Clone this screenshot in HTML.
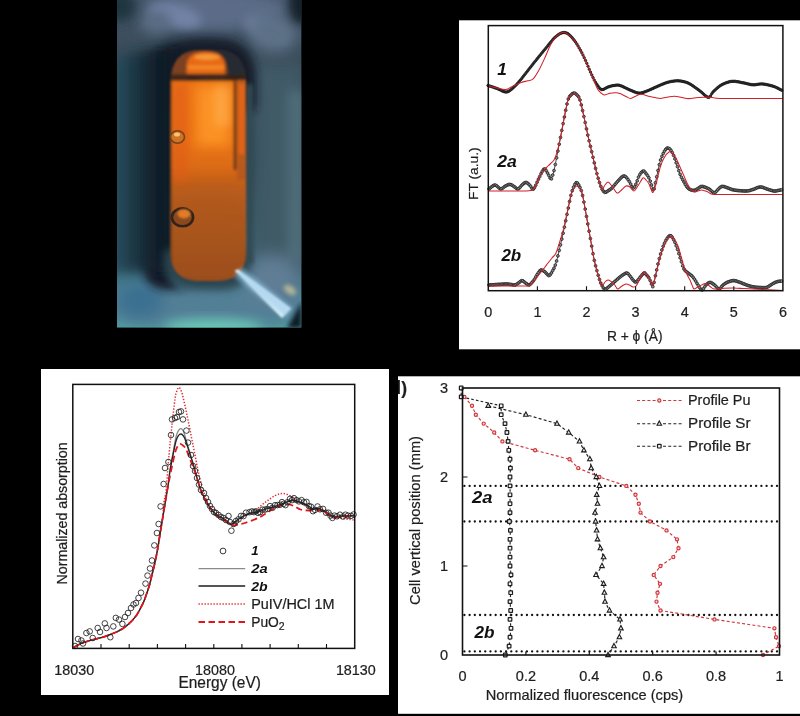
<!DOCTYPE html>
<html lang="en"><head><meta charset="utf-8"><title>Figure</title>
<style>
html,body{margin:0;padding:0;background:#000;}
body{width:800px;height:716px;overflow:hidden;position:relative;}
svg{position:absolute;left:0;top:0;display:block;}
text{font-family:"Liberation Sans",sans-serif;fill:#1e1e1e;opacity:.995;stroke:#1e1e1e;stroke-width:.22px;}
.bi{font-weight:bold;font-style:italic;fill:#111;stroke:none;}
</style></head><body>
<svg width="800" height="716" viewBox="0 0 800 716">
<defs>
<clipPath id="pc"><rect x="117" y="0" width="184.3" height="327.5"/></clipPath>
<clipPath id="oc"><path d="M170.5 281V84Q170.5 50 200 50H216Q246 50 246 84V252Q246 281 216 281H200Q170.5 281 170.5 252Z"/></clipPath>
<filter id="b2" x="-30%" y="-30%" width="160%" height="160%"><feGaussianBlur stdDeviation="2"/></filter>
<filter id="b1" x="-30%" y="-30%" width="160%" height="160%"><feGaussianBlur stdDeviation="1"/></filter>
<filter id="b05" x="-30%" y="-30%" width="160%" height="160%"><feGaussianBlur stdDeviation="0.6"/></filter>
<filter id="b4" x="-50%" y="-50%" width="200%" height="200%"><feGaussianBlur stdDeviation="4"/></filter>
<filter id="b6" x="-50%" y="-50%" width="200%" height="200%"><feGaussianBlur stdDeviation="6"/></filter>
<filter id="b8" x="-50%" y="-50%" width="200%" height="200%"><feGaussianBlur stdDeviation="8"/></filter>
<filter id="b14" x="-60%" y="-60%" width="220%" height="220%"><feGaussianBlur stdDeviation="14"/></filter>
<linearGradient id="pbg" x1="0" y1="0" x2="0" y2="1">
<stop offset="0" stop-color="#46566a"/><stop offset="0.15" stop-color="#3a4c5a"/><stop offset="0.5" stop-color="#2e4653"/><stop offset="0.8" stop-color="#3a6677"/><stop offset="0.9" stop-color="#4a8492"/><stop offset="1" stop-color="#52a0a2"/>
</linearGradient>
<linearGradient id="og" x1="0" y1="0" x2="0" y2="1">
<stop offset="0" stop-color="#7c4420"/><stop offset="0.13" stop-color="#8a4a1e"/><stop offset="0.14" stop-color="#ec7416"/><stop offset="0.4" stop-color="#ea7214"/><stop offset="0.5" stop-color="#dc6c16"/><stop offset="0.58" stop-color="#c05e1a"/><stop offset="0.78" stop-color="#ae541a"/><stop offset="1" stop-color="#9c4a18"/>
</linearGradient>
<linearGradient id="lg" x1="0" y1="0" x2="1" y2="0">
<stop offset="0" stop-color="#2b5363"/><stop offset="0.3" stop-color="#1f3c4a"/><stop offset="0.62" stop-color="#13222e"/><stop offset="1" stop-color="#0d1721"/>
</linearGradient>
<marker id="mk" markerWidth="5" markerHeight="5" refX="2.5" refY="2.5" markerUnits="userSpaceOnUse"><circle cx="2.5" cy="2.5" r="1.4" fill="#8a8a8a" stroke="#1e1e1e" stroke-width="0.8"/></marker>
<marker id="mk1" markerWidth="5" markerHeight="5" refX="2.5" refY="2.5" markerUnits="userSpaceOnUse"><circle cx="2.5" cy="2.5" r="1.2" fill="#3a3a3a" stroke="#151515" stroke-width="0.8"/></marker>
</defs>
<rect x="0" y="0" width="800" height="716" fill="#000"/>
<g id="photo" clip-path="url(#pc)">
<rect x="117" y="0" width="185" height="328" fill="url(#pbg)"/>
<!-- light arch at top -->
<ellipse cx="214" cy="10" rx="70" ry="20" fill="#5c6c88" filter="url(#b6)"/>
<ellipse cx="176" cy="16" rx="26" ry="11" fill="#7282a6" transform="rotate(14 176 16)" filter="url(#b4)"/>
<ellipse cx="266" cy="30" rx="24" ry="11" fill="#6b7c9a" transform="rotate(24 266 30)" filter="url(#b4)"/>
<ellipse cx="274" cy="34" rx="24" ry="20" fill="#5c6f86" filter="url(#b8)"/>
<ellipse cx="156" cy="22" rx="16" ry="12" fill="#5a6c84" filter="url(#b6)"/>
<!-- right lighter wall -->
<rect x="254" y="64" width="50" height="215" fill="#405a66" filter="url(#b8)"/>
<rect x="288" y="90" width="16" height="170" fill="#4f6d7a" filter="url(#b6)"/>
<!-- left wall -->

<!-- dark corners -->
<ellipse cx="302" cy="4" rx="13" ry="20" fill="#16242c" filter="url(#b4)"/>
<ellipse cx="120" cy="6" rx="16" ry="16" fill="#1e343e" filter="url(#b6)"/>
<!-- bottom glow -->
<ellipse cx="205" cy="306" rx="105" ry="24" fill="#527f96" filter="url(#b8)"/>
<ellipse cx="213" cy="327" rx="50" ry="8" fill="#6ccab8" filter="url(#b6)"/>
<ellipse cx="272" cy="280" rx="30" ry="26" fill="#5f7d94" filter="url(#b8)"/>
<ellipse cx="140" cy="300" rx="24" ry="18" fill="#3a7090" filter="url(#b8)"/>
<!-- dark slot frame: mostly left and top -->
<path d="M144 268V92Q144 38 203 38H214Q256 38 256 80V110H170V268Q170 292 200 290H170Q144 290 144 268Z" fill="#141f29" filter="url(#b4)"/>
<path d="M111 272V60Q140 50 174 46V272Z" fill="url(#lg)" filter="url(#b6)"/>
<path d="M164 268Q170 290 205 290H225Q248 288 250 266V250H164Z" fill="#2a4450" filter="url(#b4)"/>
<rect x="246" y="84" width="7" height="180" fill="#334852" filter="url(#b2)"/>
<!-- orange cell -->
<g filter="url(#b1)">
<g clip-path="url(#oc)">
<rect x="168" y="48" width="80" height="236" fill="url(#og)"/>
<!-- dome -->
<rect x="168" y="48" width="80" height="32" fill="#262a30"/>
<path d="M171 76V70Q173 50 200 50H206Q228 51 228 76Z" fill="#7c4120" filter="url(#b1)"/>
<path d="M186.5 74.5V66Q187 52 205 52Q225 52 225 66V74.5Z" fill="#e66a18" filter="url(#b1)"/>
<ellipse cx="207" cy="57" rx="13" ry="3" fill="#f89a38" filter="url(#b1)"/>
<rect x="188" y="65.5" width="36" height="3.6" fill="#f48a2a" filter="url(#b1)"/>
<rect x="168" y="74.8" width="80" height="5.8" fill="#34211a" filter="url(#b1)"/>
<!-- left redder -->
<rect x="170" y="82" width="18" height="100" fill="#e05c14" opacity="0.55" filter="url(#b4)"/>
<!-- bright centre/upper right -->
<rect x="196" y="86" width="34" height="60" fill="#ff9a2c" opacity="0.8" filter="url(#b6)"/>
<rect x="214" y="86" width="16" height="40" fill="#ffb050" opacity="0.6" filter="url(#b4)"/>
<!-- grain / darker lower -->
<rect x="168" y="190" width="80" height="95" fill="#9a5a2a" opacity="0.25" filter="url(#b8)"/>
<!-- right darker strip -->
<rect x="233.8" y="80" width="3" height="90" fill="#5e3016" filter="url(#b1)"/>
<rect x="237" y="80" width="12" height="100" fill="#b4581a" opacity="0.9" filter="url(#b1)"/>
<rect x="238.5" y="84" width="6" height="70" fill="#e4661a" opacity="0.95" filter="url(#b1)"/>
<!-- left dark edge -->
<rect x="168" y="80" width="3.5" height="205" fill="#6a3a18" filter="url(#b1)"/>
</g>
</g>
<!-- bubbles -->
<ellipse cx="177.5" cy="137" rx="7" ry="6.2" fill="#cc7426" stroke="#7a4216" stroke-width="1.6" filter="url(#b05)"/>
<ellipse cx="177" cy="134.5" rx="3" ry="2" fill="#ffc070" filter="url(#b05)"/>
<ellipse cx="182.5" cy="217.3" rx="10.6" ry="9" fill="#8a4a1c" stroke="#33231a" stroke-width="2.6" filter="url(#b05)"/>
<ellipse cx="184" cy="213.8" rx="6.5" ry="4.6" fill="#e07c28" filter="url(#b1)"/>
<!-- bright streak -->
<path d="M234.5 270.5L238.5 269.5L291 308.5L282 318Z" fill="#eefaff" filter="url(#b1)"/>
<path d="M238 272L289 313" stroke="#8fc4e6" stroke-width="12" opacity="0.6" filter="url(#b2)" fill="none"/>
<ellipse cx="290" cy="290" rx="7" ry="4" fill="#c8c49a" opacity="0.8" transform="rotate(35 290 290)" filter="url(#b2)"/>
<path d="M301.5 302L301.5 328L287 328Z" fill="#0f1c26" filter="url(#b2)"/>
</g>
<g id="tr">
<rect x="459" y="20.3" width="341" height="329" fill="#fff"/>
<polyline points="488.0,85.5 489.2,85.9 490.5,86.3 491.8,86.7 493.0,87.1 494.2,87.6 495.5,88.0 496.8,88.4 498.0,88.9 499.2,89.5 500.5,90.1 501.8,90.7 503.0,91.3 504.2,91.7 505.5,92.0 506.8,92.0 508.0,91.6 509.2,91.0 510.5,90.1 511.8,89.1 513.0,87.9 514.2,86.8 515.5,85.6 516.8,84.3 518.0,82.9 519.2,81.4 520.5,79.9 521.8,78.4 523.0,76.8 524.2,75.2 525.5,73.6 526.8,72.0 528.0,70.4 529.2,68.8 530.5,67.2 531.8,65.6 533.0,64.0 534.2,62.4 535.5,60.9 536.8,59.3 538.0,57.8 539.2,56.2 540.5,54.7 541.8,53.1 543.0,51.6 544.2,50.1 545.5,48.6 546.8,47.1 548.0,45.5 549.2,43.9 550.5,42.4 551.8,40.9 553.0,39.4 554.2,38.1 555.5,36.9 556.8,35.9 558.0,34.9 559.2,34.1 560.5,33.4 561.8,32.9 563.0,32.6 564.2,32.5 565.5,32.7 566.8,33.1 568.0,33.8 569.2,34.8 570.5,36.0 571.8,37.3 573.0,38.8 574.2,40.3 575.5,42.0 576.8,43.9 578.0,45.9 579.2,48.1 580.5,50.3 581.8,52.7 583.0,55.1 584.2,57.7 585.5,60.4 586.8,63.3 588.0,66.2 589.2,69.2 590.5,72.1 591.8,74.9 593.0,77.5 594.2,80.0 595.5,82.2 596.8,84.2 598.0,86.0 599.2,87.7 600.5,89.0 601.8,89.6 603.0,89.5 604.2,89.0 605.5,88.3 606.8,87.6 608.0,87.0 609.2,86.6 610.5,86.2 611.8,85.9 613.0,85.6 614.2,85.5 615.5,85.3 616.8,85.1 618.0,85.1 619.2,85.3 620.5,85.7 621.8,86.1 623.0,86.7 624.2,87.3 625.5,87.9 626.8,88.5 628.0,89.1 629.2,89.7 630.5,90.2 631.8,90.7 633.0,91.3 634.2,91.8 635.5,92.3 636.8,92.7 638.0,93.0 639.2,93.1 640.5,93.1 641.8,92.8 643.0,92.5 644.2,92.0 645.5,91.6 646.8,91.1 648.0,90.6 649.2,90.1 650.5,89.5 651.8,89.0 653.0,88.4 654.2,87.8 655.5,87.2 656.8,86.7 658.0,86.1 659.2,85.6 660.5,85.0 661.8,84.5 663.0,84.0 664.2,83.5 665.5,83.0 666.8,82.6 668.0,82.2 669.2,81.9 670.5,81.6 671.8,81.4 673.0,81.2 674.2,81.0 675.5,80.9 676.8,80.8 678.0,80.8 679.2,80.9 680.5,81.0 681.8,81.2 683.0,81.5 684.2,81.8 685.5,82.1 686.8,82.5 688.0,83.0 689.2,83.6 690.5,84.3 691.8,85.1 693.0,85.9 694.2,86.8 695.5,87.7 696.8,88.6 698.0,89.5 699.2,90.4 700.5,91.4 701.8,92.4 703.0,93.6 704.2,94.7 705.5,95.8 706.8,96.7 708.0,97.3 709.2,97.2 710.5,96.0 711.8,93.7 713.0,92.0 714.2,90.8 715.5,89.6 716.8,88.4 718.0,87.4 719.2,86.4 720.5,85.5 721.8,84.8 723.0,84.1 724.2,83.6 725.5,83.0 726.8,82.6 728.0,82.2 729.2,81.8 730.5,81.5 731.8,81.4 733.0,81.3 734.2,81.3 735.5,81.4 736.8,81.6 738.0,81.8 739.2,82.0 740.5,82.3 741.8,82.6 743.0,82.8 744.2,83.0 745.5,83.3 746.8,83.6 748.0,83.9 749.2,84.2 750.5,84.5 751.8,84.7 753.0,84.8 754.2,84.8 755.5,84.7 756.8,84.5 758.0,84.3 759.2,84.1 760.5,84.0 761.8,83.9 763.0,84.0 764.2,84.2 765.5,84.4 766.8,84.6 768.0,84.9 769.2,85.2 770.5,85.5 771.8,85.8 773.0,86.2 774.2,86.6 775.5,87.1 776.8,87.7 778.0,88.3 779.2,89.0 780.5,89.6 781.8,90.3" fill="none" stroke="#1a1a1a" stroke-width="1.0" marker-start="url(#mk1)" marker-mid="url(#mk1)" marker-end="url(#mk1)"/>
<polyline points="489.0,189.0 490.3,187.9 491.6,186.8 492.9,185.9 494.2,185.1 495.5,185.1 496.8,186.0 498.1,187.1 499.4,188.3 500.7,189.0 502.0,188.6 503.3,187.6 504.6,186.6 505.9,185.8 507.2,185.1 508.5,184.6 509.8,184.4 511.1,184.7 512.4,185.4 513.7,186.3 515.0,187.2 516.3,188.4 517.6,189.0 518.9,188.5 520.2,187.1 521.5,185.5 522.8,184.3 524.1,183.2 525.4,182.5 526.7,182.6 528.0,183.5 529.3,184.8 530.6,186.2 531.9,188.4 533.2,189.2 534.5,187.8 535.8,185.2 537.1,182.2 538.4,179.2 539.7,176.6 541.0,173.8 542.3,171.3 543.6,169.3 544.9,169.0 546.2,170.7 547.5,173.0 548.8,175.4 550.1,178.0 551.4,178.9 552.7,175.1 554.0,170.6 555.3,164.5 556.6,157.9 557.9,151.1 559.2,144.2 560.5,137.4 561.8,130.5 563.1,123.6 564.4,117.0 565.7,110.3 567.0,104.0 568.3,99.0 569.6,96.4 570.9,95.1 572.2,93.8 573.5,93.1 574.8,93.2 576.1,94.1 577.4,95.4 578.7,96.9 580.0,100.0 581.3,104.9 582.6,110.6 583.9,116.5 585.2,122.6 586.5,128.9 587.8,135.1 589.1,140.8 590.4,146.3 591.7,151.7 593.0,157.3 594.3,162.9 595.6,168.4 596.9,173.6 598.2,178.3 599.5,182.6 600.8,186.3 602.1,189.2 603.4,191.2 604.7,192.3 606.0,192.2 607.3,191.4 608.6,190.4 609.9,189.7 611.2,188.7 612.5,187.5 613.8,185.9 615.1,184.3 616.4,182.8 617.7,181.3 619.0,179.9 620.3,178.5 621.6,177.2 622.9,176.3 624.2,176.0 625.5,176.6 626.8,178.0 628.1,179.7 629.4,181.6 630.7,184.1 632.0,186.8 633.3,188.1 634.6,186.9 635.9,184.2 637.2,180.8 638.5,177.1 639.8,174.6 641.1,172.7 642.4,171.4 643.7,171.0 645.0,172.2 646.3,173.9 647.6,175.6 648.9,177.8 650.2,181.1 651.5,185.0 652.8,189.3 654.1,188.9 655.4,182.8 656.7,176.8 658.0,170.5 659.3,164.7 660.6,160.0 661.9,156.4 663.2,153.5 664.5,151.1 665.8,149.2 667.1,148.1 668.4,148.1 669.7,148.9 671.0,150.4 672.3,152.6 673.6,155.4 674.9,158.9 676.2,162.8 677.5,166.7 678.8,170.7 680.1,174.3 681.4,177.3 682.7,179.7 684.0,182.0 685.3,184.4 686.6,186.5 687.9,188.0 689.2,189.1 690.5,189.7 691.8,190.2 693.1,190.4 694.4,190.3 695.7,189.8 697.0,189.1 698.3,188.3 699.6,187.3 700.9,186.6 702.2,186.4 703.5,186.7 704.8,187.1 706.1,187.6 707.4,188.2 708.7,188.8 710.0,189.6 711.3,190.9 712.6,192.0 713.9,193.0 715.2,192.5 716.5,191.1 717.8,189.7 719.1,188.4 720.4,187.2 721.7,186.5 723.0,186.4 724.3,186.7 725.6,187.1 726.9,187.6 728.2,188.1 729.5,188.6 730.8,189.1 732.1,189.6 733.4,189.9 734.7,190.1 736.0,190.3 737.3,190.5 738.6,190.6 739.9,190.7 741.2,190.8 742.5,190.9 743.8,191.0 745.1,191.0 746.4,191.0 747.7,190.9 749.0,190.7 750.3,190.3 751.6,189.9 752.9,189.5 754.2,189.1 755.5,188.5 756.8,187.9 758.1,187.4 759.4,187.1 760.7,187.0 762.0,187.2 763.3,187.6 764.6,188.1 765.9,188.6 767.2,189.1 768.5,189.5 769.8,189.9 771.1,190.3 772.4,190.7 773.7,191.0 775.0,191.1 776.3,190.9 777.6,190.6 778.9,190.3 780.2,190.1 781.5,189.8" fill="none" stroke="#1a1a1a" stroke-width="0.8" marker-start="url(#mk)" marker-mid="url(#mk)" marker-end="url(#mk)"/>
<polyline points="489.0,285.0 490.3,284.9 491.6,284.8 492.9,284.8 494.2,284.7 495.5,284.6 496.8,284.5 498.1,284.4 499.4,284.3 500.7,284.3 502.0,284.2 503.3,284.1 504.6,284.0 505.9,284.0 507.2,284.0 508.5,284.1 509.8,284.3 511.1,284.5 512.4,284.8 513.7,285.0 515.0,285.0 516.3,284.5 517.6,283.6 518.9,282.7 520.2,281.6 521.5,280.7 522.8,280.8 524.1,281.8 525.4,282.9 526.7,283.8 528.0,284.7 529.3,285.0 530.6,284.0 531.9,282.6 533.2,281.1 534.5,279.2 535.8,276.9 537.1,274.6 538.4,272.7 539.7,270.9 541.0,270.0 542.3,270.2 543.6,271.0 544.9,271.9 546.2,273.2 547.5,274.7 548.8,275.6 550.1,274.9 551.4,273.0 552.7,270.6 554.0,268.2 555.3,265.1 556.6,261.0 557.9,255.9 559.2,250.4 560.5,244.9 561.8,239.1 563.1,233.2 564.4,227.1 565.7,220.8 567.0,214.4 568.3,208.0 569.6,201.4 570.9,195.4 572.2,190.7 573.5,187.2 574.8,184.4 576.1,182.7 577.4,183.0 578.7,184.9 580.0,187.4 581.3,190.6 582.6,195.5 583.9,202.1 585.2,209.1 586.5,216.4 587.8,223.9 589.1,231.2 590.4,238.6 591.7,246.1 593.0,253.7 594.3,260.4 595.6,265.8 596.9,270.6 598.2,275.3 599.5,279.5 600.8,283.1 602.1,285.8 603.4,288.0 604.7,289.3 606.0,289.1 607.3,288.0 608.6,286.9 609.9,285.8 611.2,284.7 612.5,283.6 613.8,282.4 615.1,281.3 616.4,280.1 617.7,279.0 619.0,277.8 620.3,276.8 621.6,275.8 622.9,274.9 624.2,274.1 625.5,273.3 626.8,273.0 628.1,273.7 629.4,275.3 630.7,276.9 632.0,278.8 633.3,280.3 634.6,281.7 635.9,282.0 637.2,281.0 638.5,279.4 639.8,277.7 641.1,276.1 642.4,274.5 643.7,273.2 645.0,273.2 646.3,274.8 647.6,276.1 648.9,277.8 650.2,280.6 651.5,284.0 652.8,286.7 654.1,282.4 655.4,275.8 656.7,269.9 658.0,264.0 659.3,258.6 660.6,254.0 661.9,249.9 663.2,246.2 664.5,243.1 665.8,240.5 667.1,238.4 668.4,236.7 669.7,235.7 671.0,235.8 672.3,237.3 673.6,239.7 674.9,242.4 676.2,245.8 677.5,249.4 678.8,253.6 680.1,257.8 681.4,261.8 682.7,265.9 684.0,269.0 685.3,270.8 686.6,271.9 687.9,272.9 689.2,273.9 690.5,274.8 691.8,275.8 693.1,277.3 694.4,279.1 695.7,281.1 697.0,283.4 698.3,285.5 699.6,287.6 700.9,289.4 702.2,290.0 703.5,288.7 704.8,286.6 706.1,284.9 707.4,283.7 708.7,282.8 710.0,282.4 711.3,282.7 712.6,283.6 713.9,284.5 715.2,285.6 716.5,287.0 717.8,288.4 719.1,289.0 720.4,288.2 721.7,286.4 723.0,285.1 724.3,284.1 725.6,283.2 726.9,282.5 728.2,281.9 729.5,281.5 730.8,281.1 732.1,280.7 733.4,280.6 734.7,280.7 736.0,281.0 737.3,281.4 738.6,281.9 739.9,282.3 741.2,282.8 742.5,283.4 743.8,283.9 745.1,284.4 746.4,284.9 747.7,285.4 749.0,285.8 750.3,286.2 751.6,286.5 752.9,286.8 754.2,287.0 755.5,287.2 756.8,287.3 758.1,287.4 759.4,287.5 760.7,287.5 762.0,287.6 763.3,287.7 764.6,287.7 765.9,287.6 767.2,287.2 768.5,286.5 769.8,285.6 771.1,284.8 772.4,283.9 773.7,283.2 775.0,282.5 776.3,282.0 777.6,281.6 778.9,281.3 780.2,281.2 781.5,281.1" fill="none" stroke="#1a1a1a" stroke-width="0.8" marker-start="url(#mk)" marker-mid="url(#mk)" marker-end="url(#mk)"/>
<path d="M488.0 85.5C489.5 85.9 494.0 87.3 497.0 88.0C500.0 88.7 503.1 89.9 505.8 89.6C508.5 89.3 510.4 87.2 513.0 86.0C515.6 84.8 518.8 83.3 521.3 82.4C523.8 81.5 526.0 81.4 528.0 80.8C530.0 80.2 531.3 80.7 533.1 78.9C534.9 77.1 537.0 73.6 539.0 70.0C541.0 66.4 543.2 61.5 545.0 57.5C546.8 53.5 548.4 49.2 550.0 46.0C551.6 42.8 552.8 40.6 554.5 38.5C556.2 36.4 558.2 34.5 560.0 33.5C561.8 32.5 562.9 31.5 565.2 32.6C567.5 33.7 571.0 36.2 574.0 40.0C577.0 43.8 579.9 48.9 583.0 55.1C586.1 61.3 590.1 71.5 592.5 77.0C594.9 82.5 595.9 85.7 597.3 88.4C598.7 91.1 599.8 91.9 601.0 93.0C602.2 94.1 602.9 95.0 604.4 95.0C605.9 95.0 608.0 93.6 610.0 93.2C612.0 92.8 614.6 92.6 616.3 92.7C618.0 92.8 618.4 93.0 620.0 93.6C621.6 94.2 624.2 95.7 626.0 96.5C627.8 97.3 629.0 98.5 630.7 98.4C632.4 98.3 634.2 96.7 636.0 96.0C637.8 95.3 639.1 94.2 641.4 94.3C643.7 94.4 646.8 95.8 650.0 96.5C653.2 97.2 657.4 98.3 660.4 98.4C663.4 98.5 665.6 97.4 668.0 97.0C670.4 96.6 672.3 96.1 674.6 96.2C676.9 96.3 679.6 97.1 682.0 97.5C684.4 97.9 686.2 98.6 688.9 98.6C691.6 98.6 694.8 97.8 698.0 97.5C701.2 97.2 705.7 96.9 708.4 96.9C711.1 97.0 712.1 97.5 714.0 97.8C715.9 98.0 713.8 98.3 719.8 98.4C725.8 98.5 739.5 98.4 750.0 98.4C760.5 98.4 777.2 98.4 782.7 98.4" fill="none" stroke="#d21f28" stroke-width="1.05" stroke-linejoin="round"/>
<path d="M489.0 191.0C491.7 191.0 499.8 191.0 505.0 191.0C510.2 191.0 516.5 191.0 520.0 191.0C523.5 191.0 524.2 191.1 526.0 191.0C527.8 190.9 529.7 190.8 531.0 190.5C532.3 190.2 533.0 190.2 534.0 189.0C535.0 187.8 536.0 185.2 537.0 183.0C538.0 180.8 538.8 178.1 540.0 176.0C541.2 173.9 542.7 172.2 544.0 170.5C545.3 168.8 546.3 167.8 548.0 166.0C549.7 164.2 552.5 162.3 554.0 160.0C555.5 157.7 556.0 155.3 557.0 152.0C558.0 148.7 558.8 145.5 560.0 140.0C561.2 134.5 562.7 125.7 564.0 119.0C565.3 112.3 566.8 103.9 568.0 100.0C569.2 96.1 570.0 96.5 571.0 95.5C572.0 94.5 573.0 94.0 574.0 94.0C575.0 94.0 576.0 94.5 577.0 95.5C578.0 96.5 578.8 96.4 580.0 100.0C581.2 103.6 582.7 111.0 584.0 117.0C585.3 123.0 586.7 130.0 588.0 136.0C589.3 142.0 590.7 147.3 592.0 153.0C593.3 158.7 594.8 165.3 596.0 170.0C597.2 174.7 598.0 177.8 599.0 181.0C600.0 184.2 601.0 188.3 602.0 189.0C603.0 189.7 604.0 186.2 605.0 185.0C606.0 183.8 607.0 182.0 608.0 182.0C609.0 182.0 610.0 183.8 611.0 185.0C612.0 186.2 613.2 187.8 614.0 189.0C614.8 190.2 615.3 191.3 616.0 192.0C616.7 192.7 617.0 193.4 618.0 193.0C619.0 192.6 620.7 190.7 622.0 189.5C623.3 188.3 624.7 186.4 626.0 186.0C627.3 185.6 628.7 186.2 630.0 187.0C631.3 187.8 632.6 191.3 634.0 191.0C635.4 190.7 637.0 187.2 638.5 185.0C640.0 182.8 641.8 178.8 643.0 178.0C644.2 177.2 645.0 179.0 646.0 180.0C647.0 181.0 648.2 182.5 649.0 184.0C649.8 185.5 650.3 187.6 651.0 189.0C651.7 190.4 652.2 193.2 653.0 192.4C653.8 191.6 654.8 188.1 656.0 184.0C657.2 179.9 658.7 172.3 660.0 168.0C661.3 163.7 662.5 160.7 664.0 158.0C665.5 155.3 667.6 152.8 669.0 152.0C670.4 151.2 671.3 152.5 672.5 153.5C673.7 154.5 674.8 155.8 676.0 158.0C677.2 160.2 678.7 164.0 680.0 167.0C681.3 170.0 682.8 173.3 684.0 176.0C685.2 178.7 686.0 181.0 687.0 183.0C688.0 185.0 688.8 186.5 690.0 188.0C691.2 189.5 692.7 191.5 694.0 192.0C695.3 192.5 696.7 191.3 698.0 191.0C699.3 190.7 700.3 189.8 702.0 190.0C703.7 190.2 706.0 191.3 708.0 192.0C710.0 192.7 708.7 194.0 714.0 194.4C719.3 194.8 728.6 194.4 740.0 194.4C751.4 194.4 775.3 194.4 782.4 194.4" fill="none" stroke="#d21f28" stroke-width="1.05" stroke-linejoin="round"/>
<path d="M489.0 286.0C491.7 286.0 499.8 286.0 505.0 286.0C510.2 286.0 516.2 286.0 520.0 286.0C523.8 286.0 526.2 286.2 528.0 286.0C529.8 285.8 530.0 285.3 531.0 284.5C532.0 283.7 532.8 282.4 534.0 281.0C535.2 279.6 536.7 277.7 538.0 276.0C539.3 274.3 540.8 272.5 542.0 271.0C543.2 269.5 544.0 268.3 545.0 267.0C546.0 265.7 546.8 264.5 548.0 263.0C549.2 261.5 550.7 259.7 552.0 258.0C553.3 256.3 554.7 255.8 556.0 253.0C557.3 250.2 558.7 245.3 560.0 241.0C561.3 236.7 562.8 232.0 564.0 227.0C565.2 222.0 566.3 216.3 567.5 211.0C568.7 205.7 569.9 198.8 571.0 195.0C572.1 191.2 573.1 190.0 574.0 188.5C574.9 187.0 575.7 186.1 576.6 186.0C577.5 185.9 578.4 186.8 579.3 188.0C580.2 189.2 581.0 189.7 582.0 193.0C583.0 196.3 584.0 202.7 585.0 208.0C586.0 213.3 587.0 219.3 588.0 225.0C589.0 230.7 590.0 236.3 591.0 242.0C592.0 247.7 593.0 254.2 594.0 259.0C595.0 263.8 596.0 267.3 597.0 271.0C598.0 274.7 599.2 278.5 600.0 281.0C600.8 283.5 601.2 285.8 602.0 286.0C602.8 286.2 604.0 283.0 605.0 282.0C606.0 281.0 607.0 280.1 608.0 280.0C609.0 279.9 610.0 280.8 611.0 281.5C612.0 282.2 613.2 283.1 614.0 284.0C614.8 284.9 615.3 286.2 616.0 287.0C616.7 287.8 617.0 289.2 618.0 289.0C619.0 288.8 620.7 286.8 622.0 286.0C623.3 285.2 624.8 284.2 626.0 284.0C627.2 283.8 628.3 284.5 629.5 285.0C630.7 285.5 631.9 286.8 633.0 287.0C634.1 287.2 634.8 287.3 636.0 286.0C637.2 284.7 638.7 281.4 640.0 279.0C641.3 276.6 642.9 272.4 644.0 271.6C645.1 270.8 645.7 272.9 646.5 274.0C647.3 275.1 648.2 276.7 649.0 278.0C649.8 279.3 650.3 280.8 651.0 282.0C651.7 283.2 652.2 286.3 653.0 285.0C653.8 283.7 654.8 278.5 656.0 274.0C657.2 269.5 658.5 263.1 660.0 258.0C661.5 252.9 663.2 247.1 665.0 243.5C666.8 239.9 669.4 237.3 671.0 236.6C672.6 235.9 673.3 237.9 674.5 239.5C675.7 241.1 676.8 242.9 678.0 246.0C679.2 249.1 680.3 254.0 681.5 258.0C682.7 262.0 684.0 267.1 685.0 270.0C686.0 272.9 686.7 273.8 687.5 275.5C688.3 277.2 689.2 278.4 690.0 280.0C690.8 281.6 691.3 283.5 692.0 285.0C692.7 286.5 693.2 288.6 694.0 289.0C694.8 289.4 696.0 288.0 697.0 287.5C698.0 287.0 698.7 286.6 700.0 286.0C701.3 285.4 703.4 283.6 705.0 283.6C706.6 283.6 708.0 285.1 709.5 286.0C711.0 286.9 711.6 288.6 714.0 289.0C716.4 289.4 720.7 288.5 724.0 288.3C727.3 288.1 730.7 287.9 734.0 288.0C737.3 288.1 740.7 288.4 744.0 288.6C747.3 288.8 750.0 288.8 754.0 289.0C758.0 289.2 763.3 289.6 768.0 289.8C772.7 290.0 779.7 290.3 782.0 290.4" fill="none" stroke="#d21f28" stroke-width="1.05" stroke-linejoin="round"/>
<rect x="488.3" y="25.6" width="294.6" height="265.1" fill="none" stroke="#111" stroke-width="1.5"/>
<path d="M537.4 290.7v-4.5M586.5 290.7v-4.5M635.6 290.7v-4.5M684.7 290.7v-4.5M733.8 290.7v-4.5" stroke="#111" stroke-width="1.1" fill="none"/>
<text x="488.3" y="316.8" font-size="14.4" text-anchor="middle">0</text>
<text x="537.4" y="316.8" font-size="14.4" text-anchor="middle">1</text>
<text x="586.5" y="316.8" font-size="14.4" text-anchor="middle">2</text>
<text x="635.6" y="316.8" font-size="14.4" text-anchor="middle">3</text>
<text x="684.7" y="316.8" font-size="14.4" text-anchor="middle">4</text>
<text x="733.8" y="316.8" font-size="14.4" text-anchor="middle">5</text>
<text x="782.9" y="316.8" font-size="14.4" text-anchor="middle">6</text>
<text x="634.7" y="341.3" font-size="14" text-anchor="middle" textLength="55.6" lengthAdjust="spacingAndGlyphs">R + ϕ (Å)</text>
<text transform="translate(477.6 173.7) rotate(-90)" font-size="13.5" text-anchor="middle" textLength="52.6" lengthAdjust="spacingAndGlyphs">FT (a.u.)</text>
<text class="bi" x="497.3" y="74.6" font-size="17.2">1</text>
<text class="bi" x="497.3" y="167.2" font-size="17" textLength="19.6" lengthAdjust="spacingAndGlyphs">2a</text>
<text class="bi" x="501.4" y="261.4" font-size="17" textLength="19.8" lengthAdjust="spacingAndGlyphs">2b</text>
</g>
<g id="bl">
<rect x="41" y="369" width="348" height="326" fill="#fff"/>
<path d="M73.8 647.3C74.7 646.8 77.1 645.4 79.0 644.5C80.9 643.6 83.0 642.7 85.0 642.0C87.0 641.3 88.9 640.8 91.0 640.2C93.1 639.6 95.5 639.1 97.7 638.5C99.9 637.9 102.0 637.4 104.0 636.8C106.0 636.2 107.9 635.5 110.0 634.7C112.1 633.9 114.3 633.0 116.5 632.0C118.7 631.0 121.1 629.6 123.0 628.4C124.9 627.1 126.3 626.0 128.0 624.5C129.7 623.0 131.5 621.3 133.0 619.6C134.5 617.9 135.8 616.4 137.0 614.5C138.2 612.6 139.3 610.5 140.5 608.3C141.7 606.0 142.9 603.5 144.0 601.0C145.1 598.5 145.9 595.9 146.8 593.2C147.7 590.5 148.7 587.9 149.5 585.0C150.3 582.1 151.0 579.0 151.8 575.6C152.6 572.2 153.7 568.3 154.5 564.5C155.3 560.7 156.2 556.8 156.9 553.0C157.6 549.2 158.2 545.8 158.8 542.0C159.4 538.2 160.0 534.1 160.6 530.3C161.2 526.5 161.9 523.7 162.5 519.0C163.1 514.3 163.4 506.7 164.0 502.0C164.6 497.3 165.2 498.8 166.0 491.0C166.8 483.2 168.0 466.0 169.0 455.0C170.0 444.0 171.0 434.3 172.0 425.0C173.0 415.7 174.2 404.8 175.0 399.0C175.8 393.2 176.3 392.4 177.0 390.5C177.7 388.6 178.3 387.4 179.0 387.4C179.7 387.4 180.3 388.9 181.0 390.5C181.7 392.1 182.0 392.9 183.0 397.0C184.0 401.1 185.7 408.7 187.0 415.0C188.3 421.3 189.7 428.3 191.0 435.0C192.3 441.7 193.7 448.3 195.0 455.0C196.3 461.7 197.5 468.7 199.0 475.0C200.5 481.3 202.3 487.9 204.0 493.0C205.7 498.1 207.1 502.1 209.0 505.5C210.9 508.9 213.0 511.4 215.5 513.7C218.0 516.0 221.3 517.7 224.0 519.5C226.7 521.3 229.2 524.1 231.4 524.4C233.6 524.7 235.1 522.7 237.0 521.5C238.9 520.3 240.2 518.6 243.0 517.0C245.8 515.4 250.1 513.9 253.7 511.6C257.3 509.3 260.8 505.6 264.4 503.0C267.9 500.4 271.8 497.3 275.0 495.7C278.2 494.1 280.7 493.4 283.5 493.6C286.3 493.8 289.2 495.1 292.0 496.7C294.8 498.3 297.7 501.2 300.5 503.0C303.3 504.8 306.2 506.4 309.0 507.5C311.8 508.6 314.7 508.6 317.5 509.5C320.3 510.4 323.5 511.7 326.0 513.0C328.5 514.3 329.6 516.6 332.4 517.5C335.2 518.4 339.5 518.1 343.0 518.5C346.5 518.9 351.8 519.8 353.6 520.0" fill="none" stroke="#e0262c" stroke-width="1.5" stroke-dasharray="1.3 1.7"/>
<path d="M73.8 647.3C74.7 646.8 77.1 645.4 79.0 644.5C80.9 643.6 83.0 642.7 85.0 642.0C87.0 641.3 88.9 640.8 91.0 640.2C93.1 639.6 95.5 639.1 97.7 638.5C99.9 637.9 102.0 637.4 104.0 636.8C106.0 636.2 107.9 635.5 110.0 634.7C112.1 633.9 114.3 633.0 116.5 632.0C118.7 631.0 121.1 629.6 123.0 628.4C124.9 627.1 126.3 626.0 128.0 624.5C129.7 623.0 131.5 621.3 133.0 619.6C134.5 617.9 135.8 616.4 137.0 614.5C138.2 612.6 139.3 610.5 140.5 608.3C141.7 606.0 142.9 603.5 144.0 601.0C145.1 598.5 145.9 595.9 146.8 593.2C147.7 590.5 148.7 587.9 149.5 585.0C150.3 582.1 151.0 579.0 151.8 575.6C152.6 572.2 153.7 568.3 154.5 564.5C155.3 560.7 156.2 556.8 156.9 553.0C157.6 549.2 158.2 545.8 158.8 542.0C159.4 538.2 160.0 534.1 160.6 530.3C161.2 526.5 161.9 522.8 162.5 519.0C163.1 515.2 163.8 511.5 164.4 507.7C165.0 503.9 165.7 499.8 166.3 496.0C166.9 492.2 167.6 489.3 168.2 485.0C168.8 480.7 169.2 475.3 170.0 470.0C170.8 464.7 172.0 458.5 173.0 453.0C174.0 447.5 175.1 440.8 176.0 437.0C176.9 433.2 177.7 431.9 178.5 430.5C179.3 429.1 180.2 428.6 181.0 428.6C181.8 428.6 182.3 429.3 183.0 430.5C183.7 431.7 184.0 432.8 185.0 436.0C186.0 439.2 187.5 444.8 189.0 450.0C190.5 455.2 192.3 461.2 194.0 467.0C195.7 472.8 197.5 480.3 199.0 485.0C200.5 489.7 201.3 491.5 203.0 495.0C204.7 498.5 206.9 502.9 209.0 506.0C211.1 509.1 213.0 511.5 215.5 513.7C218.0 515.9 221.3 517.2 224.0 519.0C226.7 520.8 229.4 524.1 231.4 524.4C233.4 524.7 234.4 522.1 236.0 521.0C237.6 519.9 238.8 518.8 241.0 517.5C243.2 516.2 246.7 514.0 249.5 513.0C252.3 512.0 255.2 512.3 258.0 511.5C260.8 510.7 263.7 509.2 266.5 508.3C269.3 507.4 272.2 506.9 275.0 506.0C277.8 505.1 280.7 504.0 283.5 503.0C286.3 502.0 289.2 500.2 292.0 500.0C294.8 499.8 297.7 501.0 300.5 502.0C303.3 503.0 306.9 504.8 309.0 506.0C311.1 507.2 311.6 508.7 313.0 509.0C314.4 509.3 315.3 507.6 317.5 508.0C319.7 508.4 323.5 510.3 326.0 511.6C328.5 512.9 329.6 515.3 332.4 516.0C335.2 516.7 339.5 515.7 343.0 515.6C346.5 515.5 351.8 515.4 353.6 515.4" fill="none" stroke="#8a8a8a" stroke-width="1.3"/>
<path d="M73.8 647.3C74.7 646.8 77.1 645.4 79.0 644.5C80.9 643.6 83.0 642.7 85.0 642.0C87.0 641.3 88.9 640.8 91.0 640.2C93.1 639.6 95.5 639.1 97.7 638.5C99.9 637.9 102.0 637.4 104.0 636.8C106.0 636.2 107.9 635.5 110.0 634.7C112.1 633.9 114.3 633.0 116.5 632.0C118.7 631.0 121.1 629.6 123.0 628.4C124.9 627.1 126.3 626.0 128.0 624.5C129.7 623.0 131.5 621.3 133.0 619.6C134.5 617.9 135.8 616.4 137.0 614.5C138.2 612.6 139.3 610.5 140.5 608.3C141.7 606.0 142.9 603.5 144.0 601.0C145.1 598.5 145.9 595.9 146.8 593.2C147.7 590.5 148.7 587.9 149.5 585.0C150.3 582.1 151.0 579.0 151.8 575.6C152.6 572.2 153.7 568.3 154.5 564.5C155.3 560.7 156.2 556.8 156.9 553.0C157.6 549.2 158.2 545.8 158.8 542.0C159.4 538.2 160.0 534.1 160.6 530.3C161.2 526.5 161.9 522.8 162.5 519.0C163.1 515.2 163.8 511.5 164.4 507.7C165.0 503.9 165.7 499.8 166.3 496.0C166.9 492.2 167.6 489.2 168.2 485.0C168.8 480.8 169.2 476.0 170.0 471.0C170.8 466.0 172.0 460.0 173.0 455.0C174.0 450.0 175.1 444.2 176.0 441.0C176.9 437.8 177.7 436.7 178.5 435.5C179.3 434.3 180.2 434.0 181.0 434.0C181.8 434.0 182.3 434.7 183.0 435.5C183.7 436.3 184.0 436.4 185.0 439.0C186.0 441.6 187.5 446.3 189.0 451.0C190.5 455.7 192.3 461.3 194.0 467.0C195.7 472.7 197.5 480.3 199.0 485.0C200.5 489.7 201.3 491.5 203.0 495.0C204.7 498.5 206.9 502.9 209.0 506.0C211.1 509.1 213.0 511.5 215.5 513.7C218.0 515.9 221.3 517.2 224.0 519.0C226.7 520.8 229.4 524.1 231.4 524.4C233.4 524.7 234.4 522.1 236.0 521.0C237.6 519.9 238.8 518.8 241.0 517.5C243.2 516.2 246.7 514.4 249.5 513.5C252.3 512.6 255.2 512.8 258.0 512.0C260.8 511.2 263.7 509.7 266.5 508.8C269.3 507.9 272.2 507.5 275.0 506.6C277.8 505.7 280.7 504.5 283.5 503.5C286.3 502.5 289.2 500.7 292.0 500.5C294.8 500.3 297.7 501.5 300.5 502.5C303.3 503.5 306.9 505.3 309.0 506.5C311.1 507.7 311.6 509.2 313.0 509.5C314.4 509.8 315.3 508.0 317.5 508.4C319.7 508.8 323.5 510.6 326.0 512.0C328.5 513.4 329.6 515.8 332.4 516.5C335.2 517.2 339.5 516.1 343.0 516.0C346.5 515.9 351.8 515.7 353.6 515.6" fill="none" stroke="#262626" stroke-width="1.35"/>
<path d="M73.8 647.3C74.7 646.8 77.1 645.4 79.0 644.5C80.9 643.6 83.0 642.7 85.0 642.0C87.0 641.3 88.9 640.8 91.0 640.2C93.1 639.6 95.5 639.1 97.7 638.5C99.9 637.9 102.0 637.4 104.0 636.8C106.0 636.2 107.9 635.5 110.0 634.7C112.1 633.9 114.3 633.0 116.5 632.0C118.7 631.0 121.1 629.6 123.0 628.4C124.9 627.1 126.3 626.0 128.0 624.5C129.7 623.0 131.5 621.3 133.0 619.6C134.5 617.9 135.8 616.4 137.0 614.5C138.2 612.6 139.3 610.5 140.5 608.3C141.7 606.0 142.9 603.5 144.0 601.0C145.1 598.5 145.9 595.9 146.8 593.2C147.7 590.5 148.7 587.9 149.5 585.0C150.3 582.1 151.0 579.0 151.8 575.6C152.6 572.2 153.7 568.3 154.5 564.5C155.3 560.7 156.2 556.8 156.9 553.0C157.6 549.2 158.2 545.8 158.8 542.0C159.4 538.2 160.0 534.1 160.6 530.3C161.2 526.5 161.9 522.8 162.5 519.0C163.1 515.2 163.8 511.5 164.4 507.7C165.0 503.9 165.7 499.8 166.3 496.0C166.9 492.2 167.4 489.2 168.2 485.0C169.0 480.8 169.9 476.3 171.0 471.0C172.1 465.7 173.9 457.1 175.0 453.0C176.1 448.9 176.7 448.0 177.5 446.5C178.3 445.0 179.1 444.2 180.0 444.0C180.9 443.8 182.0 444.7 183.0 445.5C184.0 446.3 184.8 446.8 186.0 449.0C187.2 451.2 188.3 454.7 190.0 459.0C191.7 463.3 194.2 469.7 196.0 475.0C197.8 480.3 199.5 486.9 201.0 491.0C202.5 495.1 203.7 496.9 205.0 499.5C206.3 502.1 207.2 504.0 209.0 506.5C210.8 509.0 213.0 512.2 215.5 514.5C218.0 516.8 221.3 518.2 224.0 520.0C226.7 521.8 229.1 524.8 231.4 525.5C233.7 526.2 235.7 524.9 238.0 524.5C240.3 524.1 241.7 524.1 245.0 523.0C248.3 521.9 254.4 519.7 258.0 518.0C261.6 516.3 263.7 514.7 266.5 513.0C269.3 511.3 271.8 509.5 275.0 508.0C278.2 506.5 282.4 504.3 285.6 504.0C288.8 503.7 291.5 505.1 294.0 506.0C296.5 506.9 298.0 508.8 300.5 509.5C303.0 510.2 306.2 510.4 309.0 510.5C311.8 510.6 314.7 509.7 317.5 510.0C320.3 510.3 323.5 511.3 326.0 512.5C328.5 513.7 329.6 516.3 332.4 517.0C335.2 517.7 339.5 516.7 343.0 516.5C346.5 516.3 351.8 516.1 353.6 516.0" fill="none" stroke="#e0161c" stroke-width="1.8" stroke-dasharray="6.5 3.5"/>
<g fill="none" stroke="#222" stroke-width="0.85"><circle cx="75.0" cy="646.0" r="2.8"/><circle cx="78.0" cy="639.0" r="2.8"/><circle cx="81.4" cy="640.5" r="2.8"/><circle cx="83.0" cy="643.5" r="2.8"/><circle cx="86.4" cy="633.0" r="2.8"/><circle cx="89.7" cy="631.4" r="2.8"/><circle cx="92.7" cy="638.0" r="2.8"/><circle cx="97.7" cy="628.0" r="2.8"/><circle cx="100.0" cy="632.0" r="2.8"/><circle cx="104.8" cy="623.4" r="2.8"/><circle cx="106.5" cy="628.0" r="2.8"/><circle cx="110.3" cy="637.2" r="2.8"/><circle cx="113.3" cy="626.4" r="2.8"/><circle cx="115.8" cy="617.9" r="2.8"/><circle cx="119.0" cy="619.6" r="2.8"/><circle cx="122.4" cy="623.9" r="2.8"/><circle cx="125.0" cy="617.0" r="2.8"/><circle cx="128.0" cy="613.0" r="2.8"/><circle cx="131.0" cy="608.0" r="2.8"/><circle cx="133.5" cy="604.5" r="2.8"/><circle cx="136.0" cy="603.0" r="2.8"/><circle cx="138.5" cy="598.0" r="2.8"/><circle cx="141.0" cy="592.7" r="2.8"/><circle cx="145.5" cy="583.6" r="2.8"/><circle cx="147.5" cy="575.6" r="2.8"/><circle cx="150.0" cy="568.5" r="2.8"/><circle cx="152.0" cy="560.5" r="2.8"/><circle cx="154.3" cy="545.4" r="2.8"/><circle cx="156.9" cy="533.0" r="2.8"/><circle cx="158.6" cy="524.0" r="2.8"/><circle cx="160.6" cy="506.4" r="2.8"/><circle cx="163.6" cy="484.0" r="2.8"/><circle cx="165.0" cy="468.0" r="2.8"/><circle cx="168.4" cy="462.0" r="2.8"/><circle cx="171.0" cy="435.0" r="2.8"/><circle cx="172.0" cy="419.4" r="2.8"/><circle cx="175.0" cy="418.0" r="2.8"/><circle cx="177.0" cy="417.0" r="2.8"/><circle cx="179.0" cy="412.0" r="2.8"/><circle cx="181.0" cy="411.4" r="2.8"/><circle cx="183.0" cy="419.4" r="2.8"/><circle cx="186.4" cy="430.6" r="2.8"/><circle cx="188.0" cy="442.6" r="2.8"/><circle cx="191.0" cy="455.0" r="2.8"/><circle cx="193.0" cy="466.0" r="2.8"/><circle cx="195.0" cy="471.0" r="2.8"/><circle cx="197.0" cy="478.0" r="2.8"/><circle cx="199.0" cy="484.6" r="2.8"/><circle cx="201.0" cy="490.0" r="2.8"/><circle cx="204.0" cy="493.0" r="2.8"/><circle cx="206.0" cy="498.0" r="2.8"/><circle cx="208.0" cy="502.0" r="2.8"/><circle cx="210.0" cy="506.0" r="2.8"/><circle cx="212.0" cy="509.0" r="2.8"/><circle cx="214.0" cy="512.0" r="2.8"/><circle cx="216.0" cy="513.0" r="2.8"/><circle cx="218.5" cy="515.0" r="2.8"/><circle cx="221.0" cy="517.0" r="2.8"/><circle cx="223.5" cy="518.0" r="2.8"/><circle cx="226.0" cy="520.0" r="2.8"/><circle cx="228.5" cy="516.0" r="2.8"/><circle cx="230.0" cy="522.0" r="2.8"/><circle cx="231.4" cy="530.7" r="2.8"/><circle cx="233.5" cy="524.0" r="2.8"/><circle cx="236.0" cy="521.0" r="2.8"/><circle cx="238.5" cy="519.3" r="2.8"/><circle cx="241.0" cy="515.9" r="2.8"/><circle cx="243.5" cy="516.1" r="2.8"/><circle cx="246.0" cy="512.7" r="2.8"/><circle cx="249.5" cy="512.2" r="2.8"/><circle cx="252.0" cy="511.4" r="2.8"/><circle cx="254.0" cy="512.1" r="2.8"/><circle cx="256.0" cy="511.3" r="2.8"/><circle cx="258.0" cy="512.9" r="2.8"/><circle cx="260.0" cy="512.1" r="2.8"/><circle cx="262.5" cy="509.7" r="2.8"/><circle cx="265.0" cy="509.6" r="2.8"/><circle cx="267.5" cy="508.9" r="2.8"/><circle cx="270.0" cy="506.1" r="2.8"/><circle cx="272.5" cy="507.8" r="2.8"/><circle cx="275.0" cy="505.2" r="2.8"/><circle cx="277.5" cy="505.1" r="2.8"/><circle cx="280.0" cy="504.7" r="2.8"/><circle cx="282.0" cy="502.1" r="2.8"/><circle cx="283.5" cy="503.9" r="2.8"/><circle cx="285.5" cy="505.1" r="2.8"/><circle cx="287.5" cy="502.3" r="2.8"/><circle cx="290.0" cy="498.9" r="2.8"/><circle cx="292.0" cy="500.1" r="2.8"/><circle cx="294.0" cy="498.2" r="2.8"/><circle cx="296.5" cy="500.1" r="2.8"/><circle cx="299.0" cy="501.4" r="2.8"/><circle cx="301.5" cy="500.1" r="2.8"/><circle cx="304.0" cy="502.3" r="2.8"/><circle cx="306.5" cy="501.9" r="2.8"/><circle cx="309.0" cy="506.1" r="2.8"/><circle cx="311.0" cy="506.7" r="2.8"/><circle cx="313.0" cy="511.2" r="2.8"/><circle cx="315.0" cy="509.9" r="2.8"/><circle cx="317.5" cy="506.5" r="2.8"/><circle cx="320.0" cy="509.3" r="2.8"/><circle cx="323.0" cy="508.9" r="2.8"/><circle cx="326.0" cy="512.7" r="2.8"/><circle cx="328.5" cy="512.7" r="2.8"/><circle cx="330.5" cy="515.6" r="2.8"/><circle cx="332.4" cy="517.9" r="2.8"/><circle cx="334.5" cy="515.6" r="2.8"/><circle cx="337.0" cy="516.3" r="2.8"/><circle cx="340.0" cy="514.7" r="2.8"/><circle cx="343.0" cy="516.5" r="2.8"/><circle cx="345.5" cy="514.7" r="2.8"/><circle cx="348.0" cy="515.6" r="2.8"/><circle cx="351.0" cy="515.9" r="2.8"/><circle cx="353.6" cy="514.5" r="2.8"/></g>
<rect x="72.8" y="384.4" width="281.9" height="264" fill="none" stroke="#111" stroke-width="1.5"/>
<path d="M101.0 648.4v-4.5M129.2 648.4v-4.5M157.4 648.4v-4.5M185.6 648.4v-4.5M213.8 648.4v-4.5M241.9 648.4v-4.5M270.1 648.4v-4.5M298.3 648.4v-4.5M326.5 648.4v-4.5" stroke="#111" stroke-width="1.1" fill="none"/>
<text x="74.2" y="674.7" font-size="14.2" text-anchor="middle" textLength="39.8" lengthAdjust="spacingAndGlyphs">18030</text>
<text x="215" y="674.7" font-size="14.2" text-anchor="middle" textLength="39.8" lengthAdjust="spacingAndGlyphs">18080</text>
<text x="355.8" y="674.7" font-size="14.2" text-anchor="middle" textLength="39.8" lengthAdjust="spacingAndGlyphs">18130</text>
<text x="219.7" y="688" font-size="15.6" text-anchor="middle" textLength="82.5" lengthAdjust="spacingAndGlyphs">Energy (eV)</text>
<text transform="translate(66.8 513.4) rotate(-90)" font-size="14" text-anchor="middle" textLength="142" lengthAdjust="spacingAndGlyphs">Normalized absorption</text>
<circle cx="223" cy="551" r="2.9" fill="none" stroke="#222" stroke-width="0.9"/>
<text class="bi" x="251.2" y="555.2" font-size="13.2">1</text>
<path d="M198.5 568.6H245.2" stroke="#8a8a8a" stroke-width="1.3"/>
<text class="bi" x="251.2" y="573.2" font-size="13.2" textLength="16.4" lengthAdjust="spacingAndGlyphs">2a</text>
<path d="M198.5 586H245.2" stroke="#1c1c1c" stroke-width="1.5"/>
<text class="bi" x="251.2" y="591.3" font-size="13.2" textLength="16.4" lengthAdjust="spacingAndGlyphs">2b</text>
<path d="M198.5 604H245.2" stroke="#e0262c" stroke-width="1.5" stroke-dasharray="1.3 1.7"/>
<text x="251.2" y="609.4" font-size="13.8" textLength="83.3" lengthAdjust="spacingAndGlyphs">PuIV/HCl 1M</text>
<path d="M198.5 622H245.2" stroke="#e0161c" stroke-width="2" stroke-dasharray="6.5 3.5"/>
<text x="251.2" y="626.8" font-size="13.8">PuO<tspan font-size="10.5" dy="3.2">2</tspan></text>
</g>
<g id="br">
<rect x="398" y="376.3" width="402" height="337.5" fill="#fff"/>
<rect x="398" y="380" width="1.8" height="14" fill="#111"/>
<text x="401.2" y="393.6" font-size="17.5" font-weight="bold" fill="#111">)</text>
<path d="M464.4 485.9H779.5" stroke="#111" stroke-width="2.3" stroke-linecap="round" stroke-dasharray="0.01 5.2" fill="none"/>
<path d="M464.4 521.5H779.5" stroke="#111" stroke-width="2.3" stroke-linecap="round" stroke-dasharray="0.01 5.2" fill="none"/>
<path d="M464.4 615.0H779.5" stroke="#111" stroke-width="2.3" stroke-linecap="round" stroke-dasharray="0.01 5.2" fill="none"/>
<path d="M464.4 651.4H779.5" stroke="#111" stroke-width="2.3" stroke-linecap="round" stroke-dasharray="0.01 5.2" fill="none"/>
<polyline points="464.4,396.9 472.0,405.8 475.8,414.7 483.7,423.6 494.2,432.5 502.4,441.4 535.1,450.3 569.5,459.2 578.2,468.1 599.4,477.0 626.3,485.9 635.5,494.8 638.8,503.7 640.5,512.6 650.0,521.5 666.5,530.4 677.0,539.3 678.5,548.2 673.3,557.1 660.5,566.0 653.7,574.9 660.0,583.8 657.5,592.7 656.5,601.6 660.5,610.5 714.5,619.4 774.4,628.3 776.0,637.2 779.0,646.1 763.0,655.0" fill="none" stroke="#d2353c" stroke-width="1.15" stroke-dasharray="3 2.2"/>
<polyline points="488.2,405.8 525.9,414.7 557.0,423.6 568.7,432.5 579.5,441.4 583.9,450.3 589.9,459.2 591.2,468.1 596.3,477.0 599.4,485.9 596.7,494.8 597.5,503.7 595.0,512.6 595.6,521.5 596.6,530.4 597.5,539.3 600.4,548.2 603.6,557.1 602.0,566.0 596.0,574.9 603.6,583.8 604.4,592.7 605.0,601.6 609.5,610.5 620.0,619.4 620.9,628.3 619.4,637.2 614.0,646.1 608.0,655.0" fill="none" stroke="#222" stroke-width="1.15" stroke-dasharray="3 2.2"/>
<polyline points="461.2,388.0 461.2,396.9 501.2,405.8 501.2,414.7 505.0,423.6 506.9,432.5 508.1,441.4 508.8,450.3 510.1,459.2 510.4,468.1 510.1,477.0 510.1,485.9 510.1,494.8 510.1,503.7 510.1,512.6 509.4,521.5 510.4,530.4 510.1,539.3 510.1,548.2 510.1,557.1 510.1,566.0 511.0,574.9 510.1,583.8 510.7,592.7 510.1,601.6 510.7,610.5 510.1,619.4 511.0,628.3 510.1,637.2 509.1,646.1 505.3,655.0" fill="none" stroke="#222" stroke-width="1.15" stroke-dasharray="2.6 2.2"/>
<g fill="#f7d9d9" stroke="#d2353c" stroke-width="1.15"><circle cx="464.4" cy="396.9" r="1.6"/><circle cx="472.0" cy="405.8" r="1.6"/><circle cx="475.8" cy="414.7" r="1.6"/><circle cx="483.7" cy="423.6" r="1.6"/><circle cx="494.2" cy="432.5" r="1.6"/><circle cx="502.4" cy="441.4" r="1.6"/><circle cx="535.1" cy="450.3" r="1.6"/><circle cx="569.5" cy="459.2" r="1.6"/><circle cx="578.2" cy="468.1" r="1.6"/><circle cx="599.4" cy="477.0" r="1.6"/><circle cx="626.3" cy="485.9" r="1.6"/><circle cx="635.5" cy="494.8" r="1.6"/><circle cx="638.8" cy="503.7" r="1.6"/><circle cx="640.5" cy="512.6" r="1.6"/><circle cx="650.0" cy="521.5" r="1.6"/><circle cx="666.5" cy="530.4" r="1.6"/><circle cx="677.0" cy="539.3" r="1.6"/><circle cx="678.5" cy="548.2" r="1.6"/><circle cx="673.3" cy="557.1" r="1.6"/><circle cx="660.5" cy="566.0" r="1.6"/><circle cx="653.7" cy="574.9" r="1.6"/><circle cx="660.0" cy="583.8" r="1.6"/><circle cx="657.5" cy="592.7" r="1.6"/><circle cx="656.5" cy="601.6" r="1.6"/><circle cx="660.5" cy="610.5" r="1.6"/><circle cx="714.5" cy="619.4" r="1.6"/><circle cx="774.4" cy="628.3" r="1.6"/><circle cx="776.0" cy="637.2" r="1.6"/><circle cx="779.0" cy="646.1" r="1.6"/><circle cx="763.0" cy="655.0" r="1.6"/></g>
<g fill="#eee" stroke="#1c1c1c" stroke-width="1.1"><path d="M488.2 403.1l2.3 4.3h-4.6z"/><path d="M525.9 412.0l2.3 4.3h-4.6z"/><path d="M557.0 420.9l2.3 4.3h-4.6z"/><path d="M568.7 429.8l2.3 4.3h-4.6z"/><path d="M579.5 438.7l2.3 4.3h-4.6z"/><path d="M583.9 447.6l2.3 4.3h-4.6z"/><path d="M589.9 456.5l2.3 4.3h-4.6z"/><path d="M591.2 465.4l2.3 4.3h-4.6z"/><path d="M596.3 474.3l2.3 4.3h-4.6z"/><path d="M599.4 483.2l2.3 4.3h-4.6z"/><path d="M596.7 492.1l2.3 4.3h-4.6z"/><path d="M597.5 501.0l2.3 4.3h-4.6z"/><path d="M595.0 509.9l2.3 4.3h-4.6z"/><path d="M595.6 518.8l2.3 4.3h-4.6z"/><path d="M596.6 527.7l2.3 4.3h-4.6z"/><path d="M597.5 536.6l2.3 4.3h-4.6z"/><path d="M600.4 545.5l2.3 4.3h-4.6z"/><path d="M603.6 554.4l2.3 4.3h-4.6z"/><path d="M602.0 563.3l2.3 4.3h-4.6z"/><path d="M596.0 572.2l2.3 4.3h-4.6z"/><path d="M603.6 581.1l2.3 4.3h-4.6z"/><path d="M604.4 590.0l2.3 4.3h-4.6z"/><path d="M605.0 598.9l2.3 4.3h-4.6z"/><path d="M609.5 607.8l2.3 4.3h-4.6z"/><path d="M620.0 616.7l2.3 4.3h-4.6z"/><path d="M620.9 625.6l2.3 4.3h-4.6z"/><path d="M619.4 634.5l2.3 4.3h-4.6z"/><path d="M614.0 643.4l2.3 4.3h-4.6z"/><path d="M608.0 652.3l2.3 4.3h-4.6z"/></g>
<g fill="#f2f2f2" stroke="#1c1c1c" stroke-width="1.2"><rect x="459.4" y="386.2" width="3.6" height="3.6" rx="0.4"/><rect x="459.4" y="395.1" width="3.6" height="3.6" rx="0.4"/><rect x="499.4" y="404.0" width="3.6" height="3.6" rx="0.4"/><rect x="499.4" y="412.9" width="3.6" height="3.6" rx="0.4"/><rect x="503.2" y="421.8" width="3.6" height="3.6" rx="0.4"/><rect x="505.1" y="430.7" width="3.6" height="3.6" rx="0.4"/><rect x="506.3" y="439.6" width="3.6" height="3.6" rx="0.4"/><rect x="507.0" y="448.5" width="3.6" height="3.6" rx="0.4"/><rect x="508.2" y="457.4" width="3.6" height="3.6" rx="0.4"/><rect x="508.6" y="466.3" width="3.6" height="3.6" rx="0.4"/><rect x="508.2" y="475.2" width="3.6" height="3.6" rx="0.4"/><rect x="508.2" y="484.1" width="3.6" height="3.6" rx="0.4"/><rect x="508.2" y="493.0" width="3.6" height="3.6" rx="0.4"/><rect x="508.2" y="501.9" width="3.6" height="3.6" rx="0.4"/><rect x="508.2" y="510.8" width="3.6" height="3.6" rx="0.4"/><rect x="507.6" y="519.7" width="3.6" height="3.6" rx="0.4"/><rect x="508.6" y="528.6" width="3.6" height="3.6" rx="0.4"/><rect x="508.2" y="537.5" width="3.6" height="3.6" rx="0.4"/><rect x="508.2" y="546.4" width="3.6" height="3.6" rx="0.4"/><rect x="508.2" y="555.3" width="3.6" height="3.6" rx="0.4"/><rect x="508.2" y="564.2" width="3.6" height="3.6" rx="0.4"/><rect x="509.2" y="573.1" width="3.6" height="3.6" rx="0.4"/><rect x="508.2" y="582.0" width="3.6" height="3.6" rx="0.4"/><rect x="508.9" y="590.9" width="3.6" height="3.6" rx="0.4"/><rect x="508.2" y="599.8" width="3.6" height="3.6" rx="0.4"/><rect x="508.9" y="608.7" width="3.6" height="3.6" rx="0.4"/><rect x="508.2" y="617.6" width="3.6" height="3.6" rx="0.4"/><rect x="509.2" y="626.5" width="3.6" height="3.6" rx="0.4"/><rect x="508.2" y="635.4" width="3.6" height="3.6" rx="0.4"/><rect x="507.3" y="644.3" width="3.6" height="3.6" rx="0.4"/><rect x="503.5" y="653.2" width="3.6" height="3.6" rx="0.4"/></g>
<rect x="462.5" y="388" width="317" height="267" fill="none" stroke="#111" stroke-width="1.6"/>
<path d="M462.5 566.0h5M462.5 477.0h5M525.9 655v-3.5M589.3 655v-3.5M652.7 655v-3.5M716.1 655v-3.5" stroke="#111" stroke-width="1.2" fill="none"/>
<text x="448.2" y="660.0" font-size="14.5" text-anchor="end">0</text>
<text x="448.2" y="571.0" font-size="14.5" text-anchor="end">1</text>
<text x="448.2" y="482.0" font-size="14.5" text-anchor="end">2</text>
<text x="448.2" y="393.0" font-size="14.5" text-anchor="end">3</text>
<text x="462.5" y="680.5" font-size="14.5" text-anchor="middle">0</text>
<text x="525.9" y="680.5" font-size="14.5" text-anchor="middle">0.2</text>
<text x="589.3" y="680.5" font-size="14.5" text-anchor="middle">0.4</text>
<text x="652.7" y="680.5" font-size="14.5" text-anchor="middle">0.6</text>
<text x="716.1" y="680.5" font-size="14.5" text-anchor="middle">0.8</text>
<text x="779.5" y="680.5" font-size="14.5" text-anchor="middle">1</text>
<text x="584.5" y="700.3" font-size="14.4" text-anchor="middle" textLength="197.4" lengthAdjust="spacingAndGlyphs">Normalized fluorescence (cps)</text>
<text transform="translate(419.5 520.5) rotate(-90)" font-size="14.4" text-anchor="middle" textLength="169" lengthAdjust="spacingAndGlyphs">Cell vertical position (mm)</text>
<text class="bi" x="472" y="502.5" font-size="16.5" textLength="20.5" lengthAdjust="spacingAndGlyphs">2a</text>
<text class="bi" x="474.5" y="638" font-size="16.5" textLength="20" lengthAdjust="spacingAndGlyphs">2b</text>
<path d="M637 400.5H682" stroke="#d2353c" stroke-width="1.15" stroke-dasharray="3 2.2"/>
<circle cx="659.3" cy="400.5" r="1.6" fill="#f7d9d9" stroke="#d2353c" stroke-width="1.15"/>
<text x="688" y="405.2" font-size="14.2" textLength="62.5" lengthAdjust="spacingAndGlyphs">Profile Pu</text>
<path d="M637 423.7H682" stroke="#222" stroke-width="1.15" stroke-dasharray="3 2.2"/>
<path d="M659.3 421.0l2.3 4.3h-4.6z" fill="#eee" stroke="#1c1c1c" stroke-width="1.1"/>
<text x="688" y="428.2" font-size="14.2" textLength="62.5" lengthAdjust="spacingAndGlyphs">Profile Sr</text>
<path d="M637 446.2H682" stroke="#222" stroke-width="1.15" stroke-dasharray="3 2.2"/>
<rect x="657.5" y="444.4" width="3.6" height="3.6" rx="0.4" fill="#f2f2f2" stroke="#1c1c1c" stroke-width="1.2"/>
<text x="688" y="450.7" font-size="14.2" textLength="62.5" lengthAdjust="spacingAndGlyphs">Profile Br</text>
</g>
</svg>
</body></html>
